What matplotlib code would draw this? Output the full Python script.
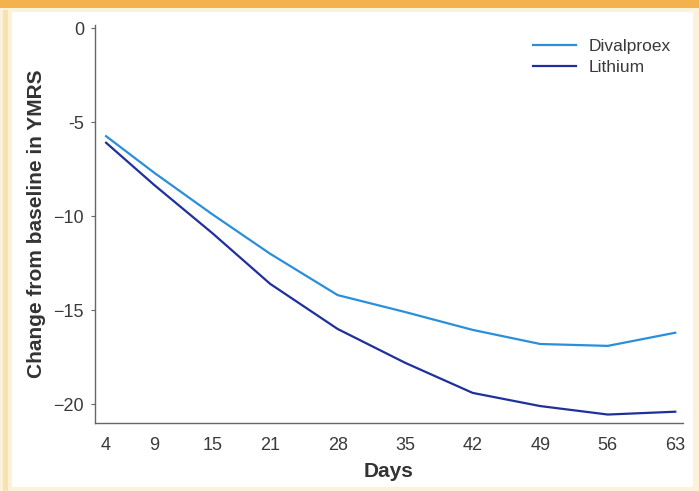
import matplotlib
matplotlib.use("Agg")
import matplotlib.pyplot as plt
from matplotlib.patches import Rectangle

plt.rcParams["font.family"] = ["Liberation Sans", "DejaVu Sans"]

days = [4, 9, 15, 21, 28, 35, 42, 49, 56, 63]
divalproex = [-5.75, -7.7, -9.9, -12.0, -14.2, -15.1, -16.05, -16.8, -16.9, -16.2]
lithium = [-6.1, -8.35, -10.9, -13.6, -16.0, -17.8, -19.4, -20.1, -20.55, -20.4]

y_ticks = [0, -5, -10, -15, -20]
y_tick_labels = ["0", "-5", "\u221210", "\u221215", "\u221220"]

W, H = 699, 491
fig = plt.figure(figsize=(W / 100, H / 100), dpi=100)
fig.patch.set_facecolor("#fcf1d9")

# page frame: orange band on top, white panel inside cream margin
fig.patches.append(Rectangle((0, 1 - 8 / H), 1, 8 / H, transform=fig.transFigure,
                             facecolor="#f3b24c", edgecolor="none", zorder=-10))
fig.patches.append(Rectangle((3 / W, 0), 5 / W, 1 - 10 / H, transform=fig.transFigure,
                             facecolor="#f8e2b0", edgecolor="none", zorder=-10))
fig.patches.append(Rectangle((12 / W, 4 / H), (693 - 12) / W, (487 - 12) / H,
                             transform=fig.transFigure, facecolor="white",
                             edgecolor="none", zorder=-10))

ax = fig.add_axes([95 / W, 68 / H, (683 - 95) / W, (423 - 25) / H])
ax.set_facecolor("none")

ax.plot(days, divalproex, color="#2a8fdb", lw=1.6, label="Divalproex")
ax.plot(days, lithium, color="#1f2f9c", lw=1.6, label="Lithium")

ax.set_xlim(2.85, 63.8)
ax.set_ylim(-21.0, 0.16)
ax.set_xticks(days)
ax.set_yticks(y_ticks)
ax.set_yticklabels(y_tick_labels)

for s in ["top", "right"]:
    ax.spines[s].set_visible(False)
for s in ["left", "bottom"]:
    ax.spines[s].set_color("#666666")
    ax.spines[s].set_linewidth(1.0)

ax.tick_params(axis="x", length=0, pad=10, labelsize=13, labelcolor="#3a3a3a")
ax.tick_params(axis="y", length=3, width=0.8, color="#666666", pad=5,
               labelsize=13, labelcolor="#3a3a3a")

ax.set_xlabel("Days", fontsize=15, fontweight="bold", color="#333333", labelpad=6)
ax.set_ylabel("Change from baseline in YMRS", fontsize=15, fontweight="bold",
              color="#333333", labelpad=5)

ax.legend(loc="upper left", bbox_to_anchor=(0.745, 0.965), frameon=False,
          fontsize=12.5, handlelength=2.5, handletextpad=0.7, labelspacing=0.32,
          borderpad=0, borderaxespad=0, labelcolor="#3a3a3a")

fig.savefig("out.png", dpi=100)
